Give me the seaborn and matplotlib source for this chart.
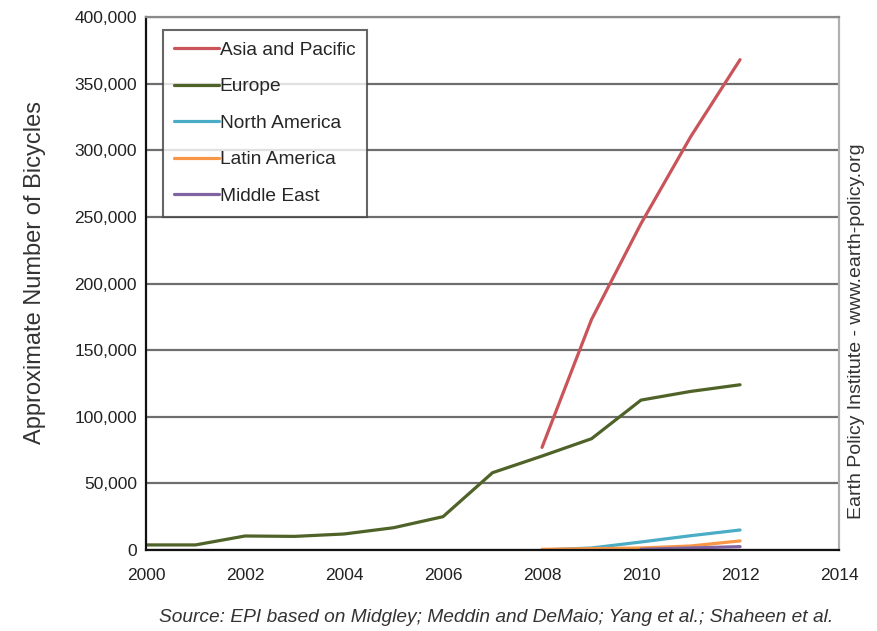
import pandas as pd
import numpy as np
import matplotlib
matplotlib.use('Agg')
import matplotlib.pyplot as plt
import seaborn as sns
from matplotlib.ticker import FuncFormatter


regions = ['Asia and Pacific', 'Europe', 'North America', 'Latin America', 'Middle East']
colors = ['#C9545A', '#4F6228', '#4BACC6', '#F79646', '#8064A2']

asia_years = [2008, 2009, 2010, 2011, 2012]
asia = [77000, 173000, 245000, 310000, 368000]

europe_years = list(range(2000, 2013))
europe = [3800, 3800, 10500, 10200, 12000, 16700, 25000, 58000, 70500, 83500, 112500, 119000, 124000]

namerica_years = [2008, 2009, 2010, 2011, 2012]
namerica = [0, 1500, 6000, 10700, 15000]

latam_years = [2008, 2009, 2010, 2011, 2012]
latam = [500, 1000, 1500, 3000, 6800]

mideast_years = [2010, 2011, 2012]
mideast = [500, 1500, 2500]

series = [(asia_years, asia), (europe_years, europe), (namerica_years, namerica),
          (latam_years, latam), (mideast_years, mideast)]

rows = []
for name, (yrs, vals) in zip(regions, series):
    for y, v in zip(yrs, vals):
        rows.append({'Year': y, 'Bicycles': v, 'Region': name})
df = pd.DataFrame(rows)

sns.set_theme(style='white')
plt.rcParams['font.family'] = ['Liberation Sans', 'DejaVu Sans']

fig = plt.figure(figsize=(8.77, 6.31), dpi=100)
ax = fig.add_axes([0.1665, 0.1284, 0.7902, 0.8446])

sns.lineplot(data=df, x='Year', y='Bicycles', hue='Region', hue_order=regions,
             palette=colors, linewidth=2.3, ax=ax, legend=True)

ax.set_xlim(2000, 2014)
ax.set_ylim(0, 400000)
ax.set_xticks(range(2000, 2015, 2))
ax.set_yticks(range(0, 400001, 50000))
ax.yaxis.set_major_formatter(FuncFormatter(lambda v, p: f'{int(v):,}'))
ax.tick_params(axis='both', labelsize=12.5, colors='#222222', width=1.2)
ax.tick_params(axis='y', direction='inout', length=7, pad=3)
ax.tick_params(axis='x', direction='out', length=5, pad=8)
ax.yaxis.grid(True, color='#6e6e6e', linewidth=1.6)
ax.set_axisbelow(True)

ax.spines['left'].set_color('#111111')
ax.spines['left'].set_linewidth(1.6)
ax.spines['bottom'].set_color('#111111')
ax.spines['bottom'].set_linewidth(1.6)
ax.spines['top'].set_color('#8a8a8a')
ax.spines['top'].set_linewidth(1.6)
ax.spines['right'].set_color('#b0b0b0')
ax.spines['right'].set_linewidth(1.6)

ax.set_xlabel('')
ax.set_ylabel('Approximate Number of Bicycles', fontsize=17, color='#333333')
ax.yaxis.set_label_coords(-0.145, 0.52)

leg = ax.legend(loc='upper left', bbox_to_anchor=(0.0245, 0.976), fontsize=13.8,
                frameon=True, fancybox=False, handlelength=2.3, handletextpad=0.05,
                labelspacing=1.0, borderpad=0.6, borderaxespad=0)
leg.get_frame().set_edgecolor('#404040')
leg.get_frame().set_linewidth(1.5)
for line in leg.get_lines():
    line.set_linewidth(2.3)

fig.text(0.977, 0.475, 'Earth Policy Institute - www.earth-policy.org', rotation=90,
         ha='center', va='center', fontsize=14, color='#333333')
fig.text(0.566, 0.021, 'Source: EPI based on Midgley; Meddin and DeMaio; Yang et al.; Shaheen et al.',
         ha='center', va='center', fontsize=13.8, style='italic', color='#333333')

fig.savefig('out.png', dpi=100)
